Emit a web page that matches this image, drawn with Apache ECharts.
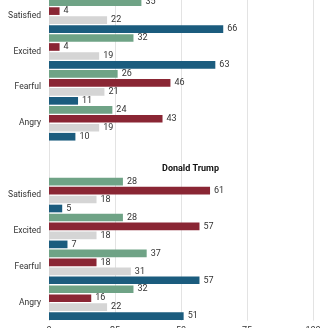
<!DOCTYPE html>
<html>
<head>
<meta charset="utf-8">
<script src="https://cdn.jsdelivr.net/npm/echarts@6/dist/echarts.min.js"></script>
<style>
  html, body { margin: 0; padding: 0; background: #fff; }
  #chart { width: 328px; height: 328px; }
</style>
</head>
<body>
<div id="chart"></div>
<script>
// Emotions felt about each candidate, share of respondents (%)
const emotions = ['Satisfied', 'Excited', 'Fearful', 'Angry'];
const panelTitle = 'Donald Trump';

// Clinton panel (upper block)
const clintonGreen = [35, 32, 26, 24];
const clintonRed   = [4, 4, 46, 43];
const clintonGray  = [22, 19, 21, 19];
const clintonBlue  = [66, 63, 11, 10];

// Trump panel (lower block)
const trumpGreen = [28, 28, 37, 32];
const trumpRed   = [61, 57, 18, 16];
const trumpGray  = [18, 18, 31, 22];
const trumpBlue  = [5, 7, 57, 51];

const xTicks = [0, 25, 50, 75, 100];

const colors = {
  green: '#6fa386',
  red: '#8a2634',
  gray: '#d5d5d5',
  blue: '#1b5c7e'
};

// one category axis: upper block, a spacer row, lower block
const rows = emotions.concat(['']).concat(emotions);
const joined = (a, b) => a.concat([null]).concat(b);

function barSeries(name, data, color) {
  return {
    name: name,
    type: 'bar',
    data: data,
    barGap: '17%',
    barCategoryGap: '3.6%',
    itemStyle: { color: color },
    label: {
      show: true,
      position: 'right',
      distance: 4,
      color: '#333',
      fontSize: 9,
      fontFamily: 'Roboto'
    }
  };
}

const chart = echarts.init(document.getElementById('chart'), null, { renderer: 'canvas' });
chart.setOption({
  animation: false,
  textStyle: { fontFamily: 'Roboto' },
  grid: {
    left: 49, right: 15, top: -2.35, height: 323,
    containLabel: false,
    outerBoundsMode: 'none'
  },
  title: {
    text: panelTitle,
    left: 185.5,
    top: 159,
    textAlign: 'center',
    textStyle: { fontSize: 9, fontWeight: 'bold', color: '#111', fontFamily: 'Roboto' }
  },
  xAxis: {
    type: 'value',
    min: 0,
    max: 100,
    interval: 25,
    axisLabel: {
      fontSize: 9,
      color: '#333',
      margin: 6,
      formatter: (v) => xTicks.includes(v) ? String(v) : ''
    },
    splitLine: { lineStyle: { color: '#e3e3e3', width: 1 } },
    axisLine: { show: false },
    axisTick: { show: false }
  },
  yAxis: {
    type: 'category',
    inverse: true,
    data: rows,
    axisLabel: { fontSize: 8.5, color: '#333', margin: 8 },
    axisLine: { show: true, lineStyle: { color: '#e3e3e3' } },
    axisTick: { show: false }
  },
  series: [
    barSeries('green', joined(clintonGreen, trumpGreen), colors.green),
    barSeries('red', joined(clintonRed, trumpRed), colors.red),
    barSeries('gray', joined(clintonGray, trumpGray), colors.gray),
    barSeries('blue', joined(clintonBlue, trumpBlue), colors.blue)
  ]
});
</script>
</body>
</html>
